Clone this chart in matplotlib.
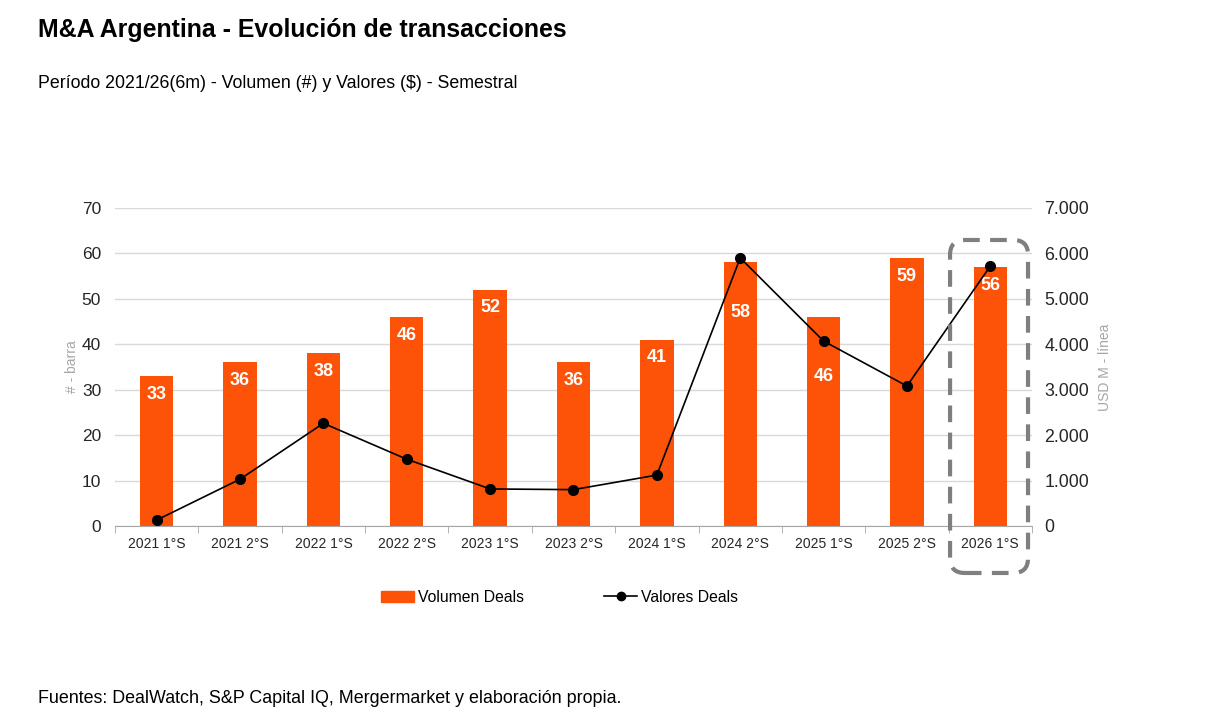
import matplotlib
matplotlib.use("Agg")
import matplotlib.pyplot as plt
from matplotlib.patches import FancyBboxPatch, Patch
from matplotlib.lines import Line2D
import numpy as np

plt.rcParams['font.family'] = ['Liberation Sans', 'DejaVu Sans']

# datos
periodos = ["2021 1°S", "2021 2°S", "2022 1°S", "2022 2°S", "2023 1°S", "2023 2°S",
            "2024 1°S", "2024 2°S", "2025 1°S", "2025 2°S", "2026 1°S"]
volumen = [33, 36, 38, 46, 52, 36, 41, 58, 46, 59, 57]
volumen_etiquetas = ["33", "36", "38", "46", "52", "36", "41", "58", "46", "59", "56"]
valores = [130, 1030, 2260, 1470, 815, 800, 1120, 5900, 4070, 3080, 5720]
# bajada de la etiqueta (en unidades de barra) cuando la línea tapa el número
bajada = {7: 11, 8: 13}

naranja = "#fc5308"
gris_eje = "#a6a6a6"

fig = plt.figure(figsize=(12.3, 7.22), dpi=100)
ax = fig.add_axes([0.0935, 0.2715, 0.7455, 0.4405])
ax2 = ax.twinx()

x = np.arange(len(periodos))
ax.bar(x, volumen, width=0.4, color=naranja, zorder=2)
for i, (v, t) in enumerate(zip(volumen, volumen_etiquetas)):
    ax.text(i, v - bajada.get(i, 4), t, ha="center", va="center",
            color="white", fontsize=13, fontweight="bold", zorder=3)

ax2.plot(x, valores, color="black", lw=1.2, marker="o", ms=7, zorder=4)

ax.set_xlim(-0.5, len(periodos) - 0.5)
ax.set_ylim(0, 70)
ax2.set_ylim(0, 7000)
ax.set_yticks(range(0, 71, 10))
ax2.set_yticks(range(0, 7001, 1000))
ax2.set_yticklabels([f"{v:,}".replace(",", ".") for v in range(0, 7001, 1000)])
ax.set_xticks(x)
ax.set_xticklabels(periodos, fontsize=10, color="#262626")
ax.set_xticks(np.arange(-0.5, len(periodos)), minor=True)
ax.tick_params(axis="x", which="major", length=0, pad=8)
ax.tick_params(axis="x", which="minor", length=5, color=gris_eje, direction="out")
ax.tick_params(axis="y", length=0, labelsize=12.5, labelcolor="#262626", pad=10)
ax2.tick_params(axis="y", length=0, labelsize=12.8, labelcolor="#262626", pad=9)

ax.grid(axis="y", color="#d9d9d9", lw=1, zorder=0)
ax.set_axisbelow(True)
for a in (ax, ax2):
    for s in ("top", "left", "right"):
        a.spines[s].set_visible(False)
ax.spines["bottom"].set_color(gris_eje)
ax2.spines["bottom"].set_visible(False)
ax2.patch.set_visible(False)

ax.set_ylabel("# - barra", color=gris_eje, fontsize=10, labelpad=2)
ax2.set_ylabel("USD M - línea", color=gris_eje, fontsize=10, labelpad=6)

# recuadro punteado sobre el último período
caja = FancyBboxPatch((0.7724, 0.2064), 0.0634, 0.4612, transform=fig.transFigure,
                      boxstyle="round,pad=0,rounding_size=0.012", fill=False,
                      edgecolor="#7f7f7f", lw=3, ls=(0, (4, 2.5)), clip_on=False,
                      mutation_aspect=1230 / 722)
fig.add_artist(caja)

handles = [Patch(color=naranja), Line2D([], [], color="black", lw=1.2, marker="o", ms=6)]
fig.legend(handles, ["Volumen Deals", "Valores Deals"], loc="center",
           bbox_to_anchor=(0.455, 0.173), ncol=2, frameon=False, fontsize=11.3,
           columnspacing=5.1, handlelength=2.1, handletextpad=0.25)

fig.text(0.031, 0.958, "M&A Argentina - Evolución de transacciones", fontsize=17.9,
         fontweight="bold", va="center")
fig.text(0.031, 0.885, "Período 2021/26(6m) - Volumen (#) y Valores ($) - Semestral",
         fontsize=12.75, va="center")
fig.text(0.031, 0.033, "Fuentes: DealWatch, S&P Capital IQ, Mergermarket y elaboración propia.",
         fontsize=12.9, va="center")

fig.savefig("out.png", dpi=100)
